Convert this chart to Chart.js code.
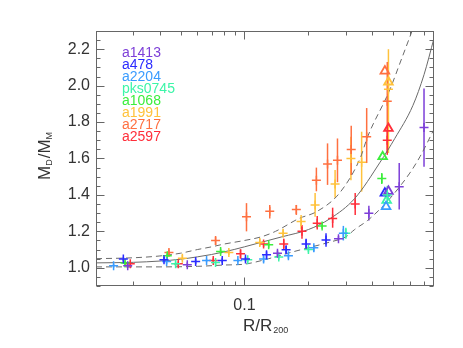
<!DOCTYPE html>
<html><head><meta charset="utf-8">
<script src="https://cdn.jsdelivr.net/npm/chart.js@4/dist/chart.umd.min.js"></script>
<style>html,body{margin:0;padding:0;background:#fff}</style>
</head><body>
<canvas id="c" width="463" height="348"></canvas>
<script>
// ---- data: [R/R200, MD/MM, errLow, errHigh]
const seriesNames = ['a1413','a478','a2204','pks0745','a1068','a1991','a2717','a2597'];
const seriesColors = ['#7d3fd8','#2b2bff','#3a9cff','#3cf5a8','#3cee3c','#ffc23c','#ff7040','#ff2e3a'];

const a1413 = [[0.0282,1.011,1.0,1.025],[0.0538,1.016,1.005,1.03],[0.143,1.08,1.065,1.095],[0.277,1.16,1.15,1.175],[0.385,1.30,1.26,1.34],[0.535,1.445,1.32,1.575],[0.70,1.77,1.555,1.985]];
const a478 = [[0.0269,1.048,1.035,1.06],[0.0418,1.044,1.03,1.06],[0.0589,1.035,1.02,1.05],[0.0786,1.04,1.025,1.055],[0.1011,1.048,1.035,1.06],[0.127,1.071,1.055,1.09],[0.157,1.099,1.08,1.12],[0.195,1.13,1.10,1.16],[0.242,1.153,1.115,1.19]];
const a2204 = [[0.0242,1.011,1.0,1.022],[0.043,1.035,1.02,1.05],[0.0663,1.04,1.03,1.05],[0.0931,1.04,1.03,1.05],[0.123,1.048,1.03,1.065],[0.161,1.066,1.05,1.08],[0.212,1.11,1.09,1.125],[0.292,1.19,1.15,1.23]];
const pks0745 = [[0.0474,1.022,1.01,1.035],[0.0731,1.029,1.015,1.04],[0.1036,1.044,1.03,1.055],[0.145,1.059,1.045,1.075],[0.2,1.10,1.085,1.115],[0.3,1.19,1.16,1.22],[0.47,1.40,1.36,1.45]];
const a1068 = [[0.0274,1.026,1.015,1.04],[0.0433,1.066,1.05,1.08],[0.0772,1.089,1.075,1.105],[0.130,1.126,1.11,1.14],[0.232,1.23,1.215,1.245],[0.443,1.49,1.46,1.52]];
const a1991 = [[0.051,1.053,1.04,1.07],[0.0844,1.084,1.07,1.10],[0.118,1.139,1.12,1.16],[0.152,1.19,1.17,1.21],[0.1847,1.254,1.21,1.29],[0.215,1.345,1.28,1.41],[0.267,1.46,1.384,1.537],[0.317,1.60,1.48,1.72],[0.356,1.58,1.418,1.747],[0.476,1.98,1.63,2.2]];
const a2717 = [[0.0441,1.084,1.065,1.10],[0.0731,1.15,1.125,1.17],[0.1022,1.28,1.20,1.355],[0.1315,1.31,1.27,1.345],[0.1754,1.32,1.29,1.345],[0.218,1.48,1.42,1.55],[0.246,1.57,1.455,1.683],[0.274,1.59,1.47,1.71],[0.318,1.65,1.51,1.78],[0.376,1.72,1.575,1.877],[0.47,1.915,1.63,2.13]];
const a2597 = [[0.029,1.022,1.01,1.035],[0.0488,1.022,1.01,1.035],[0.0713,1.04,1.025,1.055],[0.0958,1.077,1.05,1.10],[0.123,1.13,1.115,1.145],[0.153,1.13,1.10,1.16],[0.1865,1.2,1.16,1.235],[0.22,1.245,1.21,1.285],[0.26,1.27,1.22,1.33],[0.332,1.35,1.29,1.41],[0.47,1.70,1.62,1.78]];
const seriesPoints = [a1413,a478,a2204,pks0745,a1068,a1991,a2717,a2597];

// triangles (one per cluster)
const seriesTriangles = [[0.476,1.42],[0.458,1.41],[0.464,1.336],[0.467,1.37],[0.447,1.61],[0.476,2.02],[0.458,2.08],[0.476,1.765]];

// model curves
const solidR = [0.02,0.03,0.04,0.05,0.06,0.07,0.08,0.1,0.12,0.15,0.2,0.253,0.33,0.435,0.51,0.62,0.7,0.78];
const solidV = [1.027,1.03,1.037,1.047,1.06,1.073,1.087,1.115,1.14,1.17,1.21,1.27,1.38,1.58,1.71,1.89,2.06,2.26];
const upperR = [0.02,0.03,0.04,0.05,0.06,0.07,0.08,0.1,0.12,0.14,0.18,0.22,0.28,0.35,0.38,0.48,0.55,0.615];
const upperV = [1.05,1.055,1.065,1.08,1.10,1.115,1.13,1.15,1.17,1.20,1.27,1.31,1.41,1.60,1.72,1.97,2.15,2.30];
const lowerR = [0.02,0.04,0.06,0.08,0.1,0.13,0.16,0.2,0.25,0.3,0.33,0.38,0.45,0.5,0.6,0.67,0.78];
const lowerV = [1.005,1.005,1.008,1.015,1.02,1.05,1.08,1.11,1.14,1.17,1.21,1.26,1.34,1.40,1.52,1.61,1.76];

const xTickVals = [0.02,0.03,0.04,0.05,0.06,0.07,0.08,0.09,0.1,0.2,0.3,0.4,0.5,0.6,0.7];
const xTickLabels = {0.1:'0.1'};
const yTickVals = [1.0,1.2,1.4,1.6,1.8,2.0,2.2];

const AX = '#666';
const FONT = 'Liberation Sans';

const datasets = [];
seriesPoints.forEach((pts,i)=>{
  datasets.push({label:seriesNames[i], data:pts.map(p=>({x:p[0],y:p[1]})), showLine:false,
    pointStyle:'cross', pointRadius:4.5, borderWidth:1.5, borderColor:seriesColors[i], backgroundColor:seriesColors[i]});
});
seriesTriangles.forEach((t,i)=>{
  datasets.push({label:seriesNames[i]+' tri', data:[{x:t[0],y:t[1]}], showLine:false,
    pointStyle:'triangle', pointRadius:5, borderWidth:1.8, borderColor:seriesColors[i], backgroundColor:'rgba(0,0,0,0)'});
});
const curve = (R,V,dash)=>({data:R.map((r,k)=>({x:r,y:V[k]})), showLine:true, pointRadius:0, borderColor:'#6a6a6a',
  borderWidth:1, borderDash:dash, cubicInterpolationMode:'monotone', fill:false});
datasets.push(curve(solidR,solidV,[]));
datasets.push(curve(upperR,upperV,[6,4]));
datasets.push(curve(lowerR,lowerV,[6,4]));

const errPlugin = {
  id:'err',
  beforeDatasetsDraw(chart){
    const {ctx, scales:{x,y}} = chart;
    ctx.save();
    ctx.lineWidth = 1.5;
    seriesPoints.forEach((pts,i)=>{
      ctx.strokeStyle = seriesColors[i];
      pts.forEach(p=>{
        const px = x.getPixelForValue(p[0]);
        ctx.beginPath();
        ctx.moveTo(px, y.getPixelForValue(p[2]));
        ctx.lineTo(px, y.getPixelForValue(p[3]));
        ctx.stroke();
      });
    });
    ctx.restore();
  }
};

const framePlugin = {
  id:'frame',
  afterDraw(chart){
    const {ctx, chartArea:a, scales:{x,y}} = chart;
    ctx.save();
    ctx.strokeStyle = AX; ctx.lineWidth = 1;
    const L = Math.round(a.left)+0.5, R = Math.round(a.right)-0.5, T = Math.round(a.top)+0.5, B = Math.round(a.bottom)-0.5;
    ctx.strokeRect(L, T, R-L, B-T);
    ctx.beginPath();
    // y ticks (both sides)
    for (let k=0;k<=28;k++){
      const v = 0.9 + k*0.05;
      const major = Math.abs(((v-1.0)/0.2) - Math.round((v-1.0)/0.2))<1e-6;
      const len = major?8:4;
      const py = Math.round(y.getPixelForValue(v))+0.5;
      ctx.moveTo(L,py); ctx.lineTo(L+len,py);
      ctx.moveTo(R,py); ctx.lineTo(R-len,py);
    }
    xTickVals.forEach(v=>{
      const len = v===0.1?8:4;
      const px = Math.round(x.getPixelForValue(v))+0.5;
      ctx.moveTo(px,B); ctx.lineTo(px,B-len);
      ctx.moveTo(px,T); ctx.lineTo(px,T+len);
    });
    ctx.stroke();

    // legend text
    ctx.font = '14px "'+FONT+'"';
    ctx.textBaseline = 'alphabetic';
    seriesNames.forEach((n,i)=>{
      ctx.fillStyle = seriesColors[i];
      ctx.fillText(n, 122, 56.7 + i*12.05);
    });

    // x title R/R200
    ctx.fillStyle = '#333';
    ctx.font = '17px "'+FONT+'"';
    ctx.fillText('R/R', 243, 331);
    const w = ctx.measureText('R/R').width;
    ctx.font = '9px "'+FONT+'"';
    ctx.fillText('200', 243+w+1, 333);

    // y title MD/MM rotated
    ctx.translate(50, 180);
    ctx.rotate(-Math.PI/2);
    let cx = 0;
    const big = '17px "'+FONT+'"', small = '9px "'+FONT+'"';
    const parts = [['M',big,0],['D',small,2],['/',big,0],['M',big,0],['M',small,2]];
    parts.forEach(p=>{ ctx.font=p[1]; ctx.fillText(p[0], cx, p[2]); cx += ctx.measureText(p[0]).width + (p[1]===small?1:0); });
    ctx.restore();
  }
};

new Chart(document.getElementById('c'), {
  type:'scatter',
  data:{datasets},
  options:{
    responsive:false, animation:false,
    layout:{padding:{top:31,right:29,left:0,bottom:0}},
    plugins:{legend:{display:false}, tooltip:{enabled:false}},
    scales:{
      x:{type:'logarithmic', min:0.02, max:0.78,
        grid:{display:false, drawTicks:false}, border:{display:false},
        afterBuildTicks:s=>{ s.ticks = xTickVals.map(v=>({value:v})); },
        afterFit:s=>{ s.height = 62; },
        ticks:{autoSkip:false, maxRotation:0, minRotation:0, padding:10, color:'#333', font:{family:FONT,size:16},
          callback:(v)=> xTickLabels[v] || ''}
      },
      y:{type:'linear', min:0.9, max:2.3,
        grid:{display:false, drawTicks:false}, border:{display:false},
        afterBuildTicks:s=>{ s.ticks = yTickVals.map(v=>({value:v})); },
        afterFit:s=>{ s.width = 96; },
        ticks:{padding:6, color:'#333', font:{family:FONT,size:16}, callback:(v)=>Number(v).toFixed(1)}
      }
    }
  },
  plugins:[errPlugin, framePlugin]
});
</script>
</body></html>
